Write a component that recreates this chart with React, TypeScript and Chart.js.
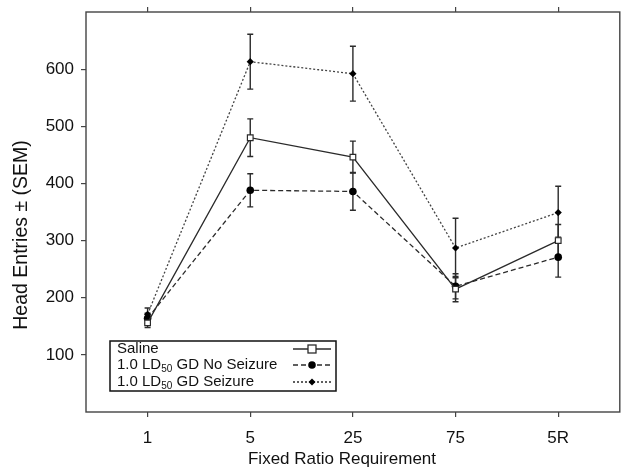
import React, { useEffect, useRef } from 'react';
import { Chart, registerables } from 'chart.js';
Chart.register(...registerables);

const categories = ['1', '5', '25', '75', '5R'];
const salineMean = [156, 480, 446, 215, 300];
const salineSem = [8, 33, 28, 22, 28];
const noSeizMean = [164, 388, 386, 220, 271];
const noSeizSem = [9, 29, 33, 22, 35];
const seizMean = [171, 613, 592, 287, 349];
const seizSem = [11, 48, 48, 52, 46];
const yTicks = [100, 200, 300, 400, 500, 600];
const xTitle = 'Fixed Ratio Requirement';
const yTitle = 'Head Entries \u00B1 (SEM)';

const FONT = '"Liberation Sans", Arial, sans-serif';
const INK = '#2b2b2b';

const semLists = [salineSem, noSeizSem, seizSem];

const frameAndBars = {
  id: 'frameAndBars',
  beforeDatasetsDraw(chart: any) {
    const { ctx, scales } = chart;
    const x = scales.x, y = scales.y;
    ctx.save();
    ctx.strokeStyle = INK;
    ctx.lineWidth = 1.4;
    ctx.setLineDash([]);
    chart.data.datasets.forEach((ds: any, di: number) => {
      const sem = semLists[di];
      ds.data.forEach((p: any, i: number) => {
        const px = x.getPixelForValue(p.x);
        const t = y.getPixelForValue(p.y + sem[i]);
        const b = y.getPixelForValue(p.y - sem[i]);
        ctx.beginPath();
        ctx.moveTo(px, t); ctx.lineTo(px, b);
        ctx.moveTo(px - 3, t); ctx.lineTo(px + 3, t);
        ctx.moveTo(px - 3, b); ctx.lineTo(px + 3, b);
        ctx.stroke();
      });
    });
    ctx.restore();
  },
  afterDraw(chart: any) {
    const { ctx, chartArea } = chart;
    ctx.save();
    ctx.strokeStyle = '#444';
    ctx.lineWidth = 1.4;
    ctx.strokeRect(chartArea.left, chartArea.top, chartArea.right - chartArea.left, chartArea.bottom - chartArea.top);

    // axis titles
    ctx.fillStyle = '#111';
    ctx.textAlign = 'center';
    ctx.textBaseline = 'middle';
    ctx.font = `17px ${FONT}`;
    ctx.fillText(xTitle, chartArea.left + 256, chartArea.bottom + 47);
    ctx.save();
    ctx.translate(22, chartArea.top + 223);
    ctx.rotate(-Math.PI / 2);
    ctx.font = `19.5px ${FONT}`;
    ctx.fillText(yTitle, 0, 0);
    ctx.restore();
    ctx.textAlign = 'left';

    // legend
    const lx = chartArea.left + 24;
    const ly = chartArea.bottom - 71;
    const lw = 226, lh = 50;
    ctx.fillStyle = '#fff';
    ctx.fillRect(lx, ly, lw, lh);
    ctx.strokeStyle = '#111';
    ctx.lineWidth = 1.5;
    ctx.strokeRect(lx, ly, lw, lh);

    const rows = [
      { pre: 'Saline', sub: '', post: '' },
      { pre: '1.0 LD', sub: '50', post: ' GD No Seizure' },
      { pre: '1.0 LD', sub: '50', post: ' GD Seizure' },
    ];
    const rowY = [ly + 8, ly + 24, ly + 41];
    ctx.fillStyle = '#111';
    ctx.textBaseline = 'middle';
    rows.forEach((r, i) => {
      let tx = lx + 7;
      ctx.font = `15px ${FONT}`;
      ctx.fillText(r.pre, tx, rowY[i]);
      tx += ctx.measureText(r.pre).width;
      if (r.sub) {
        ctx.font = `10px ${FONT}`;
        ctx.fillText(r.sub, tx, rowY[i] + 4);
        tx += ctx.measureText(r.sub).width;
        ctx.font = `15px ${FONT}`;
        ctx.fillText(r.post, tx, rowY[i]);
      }
      const ds = chart.data.datasets[i];
      const sx0 = lx + 183, sx1 = lx + 221, mx = (sx0 + sx1) / 2;
      ctx.strokeStyle = INK;
      ctx.lineWidth = 1.3;
      ctx.setLineDash(ds.borderDash || []);
      ctx.beginPath();
      ctx.moveTo(sx0, rowY[i]); ctx.lineTo(sx1, rowY[i]);
      ctx.stroke();
      ctx.setLineDash([]);
      ctx.beginPath();
      if (i === 0) {
        ctx.fillStyle = '#fff';
        ctx.fillRect(mx - 4, rowY[i] - 4, 8, 8);
        ctx.strokeRect(mx - 4, rowY[i] - 4, 8, 8);
      } else if (i === 1) {
        ctx.fillStyle = '#000';
        ctx.arc(mx, rowY[i], 3.8, 0, Math.PI * 2);
        ctx.fill();
      } else {
        ctx.fillStyle = '#000';
        ctx.moveTo(mx, rowY[i] - 3.5); ctx.lineTo(mx + 3.5, rowY[i]);
        ctx.lineTo(mx, rowY[i] + 3.5); ctx.lineTo(mx - 3.5, rowY[i]);
        ctx.closePath();
        ctx.fill();
      }
      ctx.fillStyle = '#111';
    });
    ctx.restore();
  },
};

export default function App() {
  const ref = useRef<HTMLCanvasElement>(null);
  useEffect(() => {
    document.body.style.margin = '0';
    const mk = (arr: number[]) => arr.map((v, i) => ({ x: i, y: v }));
    const tickFont = { family: FONT, size: 17 };
    const chart = new Chart(ref.current!, {
      type: 'line',
      data: {
        datasets: [
          {
            label: 'Saline', data: mk(salineMean), borderColor: INK, borderWidth: 1.3,
            pointStyle: 'rect', pointRadius: 4, pointBackgroundColor: '#fff',
            pointBorderColor: INK, pointBorderWidth: 1.2,
          },
          {
            label: '1.0 LD50 GD No Seizure', data: mk(noSeizMean), borderColor: INK, borderWidth: 1.3,
            borderDash: [5, 3], pointStyle: 'circle', pointRadius: 3.8, pointBackgroundColor: '#000',
            pointBorderColor: '#000', pointBorderWidth: 0,
          },
          {
            label: '1.0 LD50 GD Seizure', data: mk(seizMean), borderColor: '#444', borderWidth: 1.3,
            borderDash: [2, 2], pointStyle: 'rectRot', pointRadius: 3.6, pointBackgroundColor: '#000',
            pointBorderColor: '#000', pointBorderWidth: 0,
          },
        ] as any,
      },
      options: {
        animation: false,
        responsive: false,
        layout: { padding: { left: 0, right: 2, top: 0, bottom: 0 } },
        plugins: { legend: { display: false }, tooltip: { enabled: false } },
        scales: {
          x: {
            type: 'linear', position: 'bottom', min: -0.6, max: 4.6,
            afterBuildTicks: (s: any) => { s.ticks = categories.map((_, i) => ({ value: i })); },
            afterFit: (s: any) => { s.height = 58; s.paddingLeft = 0; s.paddingRight = 0; },
            ticks: {
              font: tickFont, color: '#111', padding: 11,
              callback: (v: any) => categories[v as number] ?? '',
            },
            grid: { drawOnChartArea: false, drawTicks: true, tickLength: 5, color: '#444', lineWidth: 1.2 },
            border: { display: false },
          },
          xTop: {
            type: 'linear', position: 'top', min: -0.6, max: 4.6,
            afterBuildTicks: (s: any) => { s.ticks = categories.map((_, i) => ({ value: i })); },
            afterFit: (s: any) => { s.height = 12; s.paddingLeft = 0; s.paddingRight = 0; },
            ticks: { display: false },
            grid: { drawOnChartArea: false, drawTicks: true, tickLength: 5, color: '#444', lineWidth: 1.2 },
            border: { display: false },
          },
          y: {
            type: 'linear', position: 'left', min: 0, max: 700,
            afterBuildTicks: (s: any) => { s.ticks = yTicks.map((v) => ({ value: v })); },
            afterFit: (s: any) => { s.width = 86; s.paddingTop = 0; s.paddingBottom = 0; },
            ticks: { font: tickFont, color: '#111', padding: 7 },
            grid: { drawOnChartArea: false, drawTicks: true, tickLength: 5, color: '#444', lineWidth: 1.2 },
            border: { display: false },
          },
        },
      } as any,
      plugins: [frameAndBars],
    });
    return () => chart.destroy();
  }, []);
  return <canvas ref={ref} width={625} height={470} style={{ display: 'block' }} />;
}
